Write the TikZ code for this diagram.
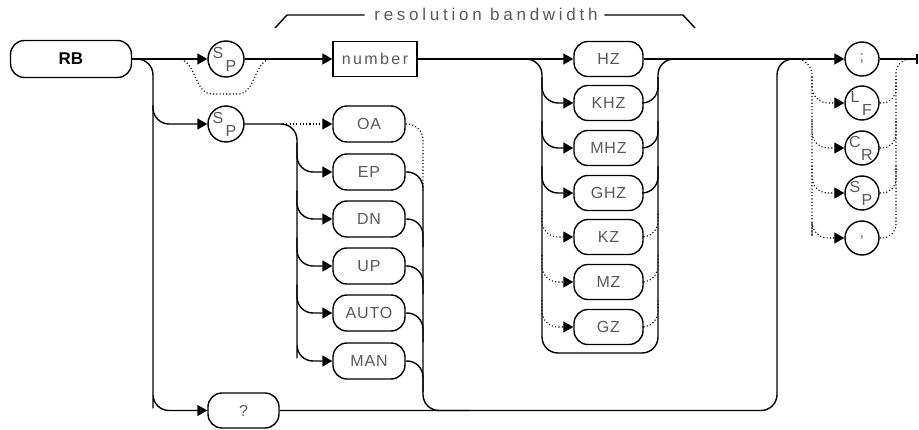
\documentclass[tikz,border=0pt]{standalone}
\usepackage{fontspec}
\setmainfont{Liberation Sans}
\newfontfamily\capsfont[LetterSpace=5]{Liberation Sans}
\newfontfamily\lowfont[LetterSpace=15]{Liberation Sans}
\newfontfamily\labfont[LetterSpace=22]{Liberation Sans}
\usetikzlibrary{arrows.meta,calc}
\begin{document}
\begin{tikzpicture}[x=1pt,y=-1pt,line width=1.4pt,
  kw/.style={draw, rounded corners=14pt, minimum width=72pt, minimum height=36pt,
    inner sep=0pt, font=\capsfont\fontsize{16}{19}\selectfont, text=black!65},
  unitbox/.style={kw, minimum width=69pt, minimum height=35pt},
  numbox/.style={draw, minimum width=84pt, minimum height=35pt, inner sep=0pt,
    font=\lowfont\fontsize{16}{19}\selectfont, text=black!65},
  circ/.style={draw, circle, minimum size=36pt, inner sep=0pt},
  tcirc/.style={draw, circle, minimum size=34pt, inner sep=0pt,
    font=\fontsize{15}{17}\selectfont, text=black!65},
  sub/.style={inner sep=0pt, font=\fontsize{16}{18}\selectfont, text=black!65},
  arr/.style={-{Triangle[length=10pt,width=11pt]}},
  dots/.style={line width=1.1pt, dash pattern=on 1.1pt off 2.2pt},
  rc/.style={rounded corners=16pt}]
\useasboundingbox (0,0) rectangle (919,430);

% ---------- nodes ----------
\node[kw, minimum width=121pt, minimum height=37pt, text=black,
  font=\bfseries\fontsize{17}{20}\selectfont] (RB) at (71,59) {RB};
\node[circ] (sp1) at (226,59) {};
\node[circ] (sp2) at (226,124) {};
\node[numbox] (num) at (375,59) {number};

\node[kw] (OA)   at (369,124) {OA};
\node[kw] (EP)   at (369,172) {EP};
\node[kw] (DN)   at (369,219) {DN};
\node[kw] (UP)   at (369,266) {UP};
\node[kw] (AUTO) at (369,313) {AUTO};
\node[kw] (MAN)  at (369,361) {MAN};

\node[kw, minimum width=71pt, minimum height=35pt] (q) at (243.5,410.5) {?};

\node[unitbox] (HZ)  at (608.5,59)  {HZ};
\node[unitbox] (KHZ) at (608.5,103) {KHZ};
\node[unitbox] (MHZ) at (608.5,148) {MHZ};
\node[unitbox] (GHZ) at (608.5,193) {GHZ};
\node[unitbox] (KZ)  at (608.5,237) {KZ};
\node[unitbox] (MZ)  at (608.5,282) {MZ};
\node[unitbox] (GZ)  at (608.5,327) {GZ};

\node[tcirc] (semi)  at (862,59)  {;};
\node[tcirc] (LF)    at (862,103) {};
\node[tcirc] (CR)    at (862,148) {};
\node[tcirc] (SPt)   at (862,193) {};
\node[tcirc] (comma) at (862,238) {,};

% letters inside the circles
\node[sub] (sp1s) at ([shift={(-8,-6)}]sp1.center) {S};
\node[sub] (sp1p) at ([shift={(5,7)}]sp1.center) {P};
\node[sub] (sp2s) at ([shift={(-8,-6)}]sp2.center) {S};
\node[sub] (sp2p) at ([shift={(5,7)}]sp2.center) {P};
\node[sub] (lfl) at ([shift={(-7,-6)}]LF.center) {L};
\node[sub] (lff) at ([shift={(5,7)}]LF.center) {F};
\node[sub] (crc) at ([shift={(-7,-6)}]CR.center) {C};
\node[sub] (crr) at ([shift={(5,7)}]CR.center) {R};
\node[sub] (sps) at ([shift={(-7,-6)}]SPt.center) {S};
\node[sub] (spp) at ([shift={(5,7)}]SPt.center) {P};

% label
\node[inner sep=0pt, font=\labfont\fontsize{17}{19}\selectfont, text=black!65]
  (lbl) at (486,14.5) {resolution bandwidth};
\coordinate (la) at (287,15); \coordinate (lb) at (275,28);
\coordinate (ra) at (683,15); \coordinate (rb) at (695,28);
\draw ([xshift=-9pt]lbl.west |- la) -- (la) -- (lb);
\draw ([xshift=6pt]lbl.east |- ra) -- (ra) -- (rb);

% bus coordinates
\coordinate (b0) at (153,0);
\coordinate (b1) at (297,0);
\coordinate (b2) at (423,0);
\coordinate (b3) at (542,0);
\coordinate (b4) at (658,0);
\coordinate (b5) at (777,0);
\coordinate (b6) at (812,0);
\coordinate (b7) at (896,0);

% ---------- main line ----------
\draw[arr] (RB) -- (sp1);
\draw[arr] (sp1) -- (num);
\draw[arr] (num) -- (HZ);
\draw[arr] (HZ) -- (semi);
\coordinate (tend) at (917,59);
\draw (semi) -- (tend);
\draw ([yshift=-5pt]tend) -- ([yshift=5pt]tend);

% bypass of first SP
\coordinate (by1) at (178,59); \coordinate (by2) at (272,59);
\draw[dots] (by1) .. controls (196,59) and (194,94) .. (212,94) -- (238,94)
  .. controls (256,94) and (254,59) .. (by2);

% RB down to ? and to second SP
\draw[arr, rc] (RB.east) -| (b0 |- q.north) |- (q.west);
\draw[arr, rc] (b0 |- sp2.north) |- (sp2.west);

% second SP to options
\draw[arr, rc] (sp2.east) -| (b1 |- MAN.north) |- (MAN.west);
\coordinate (d1) at (283,124);
\draw[dots, arr] (d1) -- (OA.west);
\draw[arr, rc] (b1 |- OA.south) |- (EP.west);
\draw[arr, rc] (b1 |- EP.south) |- (DN.west);
\draw[arr, rc] (b1 |- DN.south) |- (UP.west);
\draw[arr, rc] (b1 |- UP.south) |- (AUTO.west);

% options right bus
\coordinate (j2) at (470,410.5);
\draw[dots, rc] (OA.east) -| (b2 |- EP.south);
\draw[rc] (EP.east) -| (b2 |- q.east) -- (j2);
\draw[rc] (DN.east) -| (b2 |- UP.north);
\draw[rc] (UP.east) -| (b2 |- AUTO.north);
\draw[rc] (AUTO.east) -| (b2 |- MAN.north);
\draw[rc] (MAN.east) -| (b2 |- q.north);

% ? return to main line
\coordinate (j4) at (800,59);
\draw[rc] (q.east) -| (b5 |- j4) -- (j4);

% unit group
\coordinate (L3) at (542,353); \coordinate (R3) at (658,353);
\coordinate (j3) at (690,59);
\draw[rc] (num.east) -| (L3) -- (R3) |- (j3);
\draw[arr, rc] (b3 |- HZ.south) |- (KHZ.west);
\draw[arr, rc] (b3 |- KHZ.south) |- (MHZ.west);
\draw[arr, rc] (b3 |- MHZ.south) |- (GHZ.west);
\draw[dots, arr, rc] (b3 |- GHZ.south) |- (KZ.west);
\draw[dots, arr, rc] (b3 |- KZ.south) |- (MZ.west);
\draw[dots, arr, rc] (b3 |- MZ.south) |- (GZ.west);
\draw[rc] (KHZ.east) -| (b4 |- HZ.south);
\draw[rc] (MHZ.east) -| (b4 |- KHZ.south);
\draw[rc] (GHZ.east) -| (b4 |- MHZ.south);
\draw[dots, rc] (KZ.east) -| (b4 |- GHZ.south);
\draw[dots, rc] (MZ.east) -| (b4 |- KZ.south);
\draw[dots, rc] (GZ.east) -| (b4 |- MZ.south);

% terminators
\coordinate (t0) at (796,59);
\coordinate (t1) at (914,59);
\draw[dots, arr, rc] (t0) -| (b6 |- comma.north) |- (comma.west);
\draw[dots, arr, rc] (b6 |- semi.south) |- (LF.west);
\draw[dots, arr, rc] (b6 |- LF.south) |- (CR.west);
\draw[dots, arr, rc] (b6 |- CR.south) |- (SPt.west);
\draw[dots, rounded corners=14pt] (comma.east) -| (b7 |- semi.east) -- (t1);
\draw[dots, rounded corners=14pt] (LF.east) -| (b7 |- semi.south);
\draw[dots, rounded corners=14pt] (CR.east) -| (b7 |- LF.south);
\draw[dots, rounded corners=14pt] (SPt.east) -| (b7 |- CR.south);
\end{tikzpicture}
\end{document}
